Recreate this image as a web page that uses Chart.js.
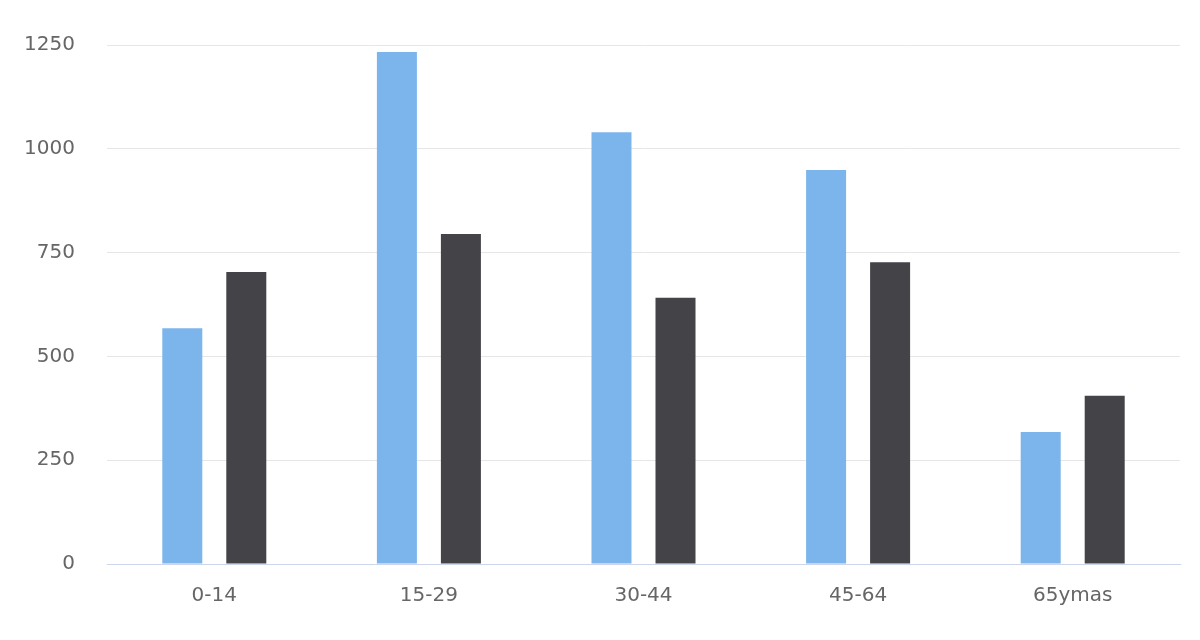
<!DOCTYPE html>
<html>
<head>
<meta charset="utf-8">
<script src="https://cdn.jsdelivr.net/npm/chart.js@4"></script>
<style>
html,body{margin:0;padding:0;background:#fff;}
#wrap{width:1200px;height:640px;position:relative;}
</style>
</head>
<body>
<div id="wrap"><canvas id="c" width="1200" height="640"></canvas></div>
<script>
const categories = ["0-14", "15-29", "30-44", "45-64", "65ymas"];
const seriesA = [568, 1233, 1040, 949, 318];
const seriesB = [703, 795, 641, 727, 405];
const yTicks = [0, 250, 500, 750, 1000, 1250];

const font = { family: "DejaVu Sans", size: 20 };
new Chart(document.getElementById('c'), {
  type: 'bar',
  data: {
    labels: categories,
    datasets: [
      { label: 'A', data: seriesA, backgroundColor: '#7cb5ec', borderWidth: 0, categoryPercentage: 0.5965, barPercentage: 0.625 },
      { label: 'B', data: seriesB, backgroundColor: '#434348', borderWidth: 0, categoryPercentage: 0.5965, barPercentage: 0.625 }
    ]
  },
  options: {
    responsive: false,
    animation: false,
    devicePixelRatio: 1,
    layout: { padding: { top: 45, right: 20, left: 0, bottom: 0 } },
    plugins: { legend: { display: false }, tooltip: { enabled: false } },
    scales: {
      x: {
        grid: { display: false, drawTicks: false },
        border: { display: true, color: '#ccd6eb', width: 1 },
        ticks: { color: '#666666', font: font, padding: 20, maxRotation: 0 },
        afterFit: s => { s.height = 76; }
      },
      y: {
        min: 0, max: 1250,
        afterBuildTicks: s => { s.ticks = yTicks.map(v => ({ value: v })); },
        grid: { color: '#e6e6e6', lineWidth: 1, drawTicks: false },
        border: { display: false },
        ticks: { color: '#666666', font: font, padding: 32, callback: v => String(v) },
        afterFit: s => { s.width = 107; }
      }
    }
  }
});
</script>
</body>
</html>
